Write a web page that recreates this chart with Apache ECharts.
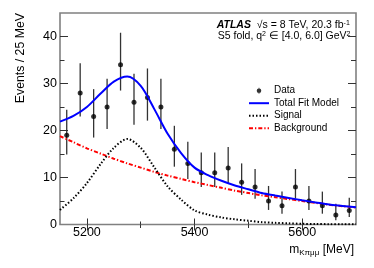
<!DOCTYPE html>
<html><head><meta charset="utf-8">
<script src="https://cdn.jsdelivr.net/npm/echarts@6/dist/echarts.min.js"></script>
<style>html,body{margin:0;padding:0;background:#fff}#c{width:374px;height:268px}</style>
</head><body><div id="c"></div>
<script>
// Data (bin centres, 25 MeV bins)
const binCenters = [5162.5,5187.5,5212.5,5237.5,5262.5,5287.5,5312.5,5337.5,5362.5,5387.5,5412.5,5437.5,5462.5,5487.5,5512.5,5537.5,5562.5,5587.5,5612.5,5637.5,5662.5,5687.5];
const counts     = [19,28,23,25,34,26,27,25,16,13,11,11,12,9,8,5,4,8,5,4,2,3];
const errLow     = [14.9,23.0,18.5,20.3,28.5,21.2,22.1,20.3,12.3,9.7,8.0,8.0,8.8,6.3,5.5,3.1,2.3,5.5,3.1,2.3,0.9,1.6];
const errHigh    = [24.4,34.3,28.8,31.0,40.8,32.1,33.2,31.0,21.0,17.6,15.3,15.3,16.5,13.0,11.8,8.2,7.0,11.8,8.2,7.0,4.4,5.7];
// Fit curves
const curveX     = [5150,5175,5200,5225,5250,5275,5300,5325,5350,5375,5400,5425,5450,5475,5500,5525,5550,5575,5600,5625,5650,5675,5700];
const totalFit   = [21.9,23.1,25.0,27.8,30.4,31.5,29.5,24.6,19.3,15.2,12.1,10.5,9.3,8.3,7.5,6.7,6.15,5.65,5.15,4.7,4.25,3.95,3.65];
const signalPdf  = [3.1,5.6,8.8,12.8,16.3,18.2,16.3,12.2,8.1,5.3,3.0,2.1,1.5,1.1,0.8,0.5,0.35,0.25,0.15,0.1,0.07,0.05,0.03];
const background = [18.8,17.5,16.2,15.1,14.0,13.0,12.1,11.2,10.4,9.7,9.0,8.4,7.8,7.2,6.7,6.2,5.8,5.4,5.0,4.6,4.2,3.9,3.6];
// Axis ticks
const xMajorTicks = [5200,5400,5600];
const xMinorTicks = [5300,5500];
const yMajorTicks = [10,20,30,40];
const yMinorTicks = [5,15,25,35];
const xMin = 5150, xMax = 5700, yMin = 0, yMax = 45;

const FONT = 'Liberation Sans, Arial, sans-serif';
const chart = echarts.init(document.getElementById('c'), null, {renderer:'canvas'});

function xAx(position, ticks, len, labels){
  return {type:'value', min:xMin, max:xMax, position:position,
    axisLine:{show:false}, splitLine:{show:false},
    axisTick:{show:true, inside:true, length:len, customValues:ticks, lineStyle:{color:'#333', width:1}},
    axisLabel:{show:labels, customValues:ticks, margin:2, color:'#000', fontSize:12.5, fontFamily:FONT, formatter:v=>String(v)}};
}
function yAx(position, ticks, len, labels){
  return {type:'value', min:yMin, max:yMax, interval:10, position:position, offset:0,
    axisLine:{show:false}, splitLine:{show:false},
    axisTick:{show:true, inside:true, length:len, customValues:ticks, lineStyle:{color:'#333', width:1}},
    axisLabel:{show:labels, customValues:[0].concat(yMajorTicks), margin:3, color:'#000', fontSize:12.5, fontFamily:FONT, formatter:v=>String(v)}};
}

const dataPts = binCenters.map((x,i)=>[x, counts[i]]);
const errPts = binCenters.map((x,i)=>[x, errLow[i], errHigh[i]]);
const zip = arr => curveX.map((x,i)=>[x, arr[i]]);
const hideSym = {opacity:0};

chart.setOption({
  animation:false,
  grid:{left:60, top:13, width:296, height:211.5, show:true, borderColor:'#808080', borderWidth:1.6, backgroundColor:'transparent'},
  xAxis:[xAx('bottom', xMajorTicks, 6, true), xAx('bottom', xMinorTicks, 3, false), xAx('top', xMajorTicks, 6, false), xAx('top', xMinorTicks, 3.5, false)],
  yAxis:[yAx('left', yMajorTicks, 8, true), yAx('left', yMinorTicks, 4.5, false), yAx('right', yMajorTicks, 8, false), yAx('right', yMinorTicks, 5, false)],
  legend:{orient:'vertical', left:243, top:80.7, itemWidth:20, itemHeight:6, itemGap:2.5,
    textStyle:{fontSize:10, fontFamily:FONT, color:'#000', padding:[0,0,0,0]},
    data:[
      {name:'Data', icon:'path://M1.9,0h0.8v0.9h-0.8zM1.9,5.1h0.8v0.9h-0.8zM2.3,0.7a2.3,2.3 0 1 1 -0.01 0z', itemStyle:{color:'#000'}},
      {name:'Total Fit Model', itemStyle:hideSym}, {name:'Signal', itemStyle:hideSym}, {name:'Background', itemStyle:hideSym}]},
  series:[
    {name:'err', type:'custom', data:errPts, encode:{x:0, y:[1,2]}, z:2,
      renderItem:function(params, api){
        const p1 = api.coord([api.value(0), api.value(1)]);
        const p2 = api.coord([api.value(0), api.value(2)]);
        return {type:'line', shape:{x1:p1[0], y1:p1[1], x2:p2[0], y2:p2[1]}, style:{stroke:'#333', lineWidth:1.3}};
      }},
    {name:'Data', type:'scatter', data:dataPts, symbol:'circle', symbolSize:5, itemStyle:{color:'#000'}, z:4},
    {name:'Background', type:'line', data:zip(background), smooth:0.3, showSymbol:false, symbol:'none', z:3,
      lineStyle:{color:'#ff0000', width:2, type:[4,2,1.3,2]}, itemStyle:{color:'#ff0000'}},
    {name:'Signal', type:'line', data:zip(signalPdf), smooth:0.3, showSymbol:false, symbol:'none', z:3,
      lineStyle:{color:'#000', width:2, type:[1.5,2]}, itemStyle:{color:'#000'}},
    {name:'Total Fit Model', type:'line', data:zip(totalFit), smooth:0.3, showSymbol:false, symbol:'none', z:5,
      lineStyle:{color:'#0000ff', width:2}, itemStyle:{color:'#0000ff'}}
  ],
  graphic:[
    {type:'text', x:21, y:13, rotation:Math.PI/2,
      style:{text:'Events / 25 MeV', fontSize:12.3, fontFamily:FONT, fill:'#000', align:'right', verticalAlign:'middle'}},
    {type:'text', x:354, y:249.5,
      style:{text:'{a|m}{b|Kπμμ}{a| [MeV]}', align:'right', verticalAlign:'middle', fontFamily:FONT, fill:'#000',
        rich:{a:{fontSize:12, fontFamily:FONT, lineHeight:14, fill:'#000'}, b:{fontSize:8, fontFamily:FONT, lineHeight:8, verticalAlign:'bottom', fill:'#000'}}}},
    {type:'text', x:216.7, y:25.5,
      style:{text:'{t|ATLAS}{a|  √s = 8 TeV, 20.3 fb}{s|-1}', align:'left', verticalAlign:'middle', fontFamily:FONT, fill:'#000',
        rich:{t:{fontSize:10.5, fontWeight:'bold', fontStyle:'italic', fontFamily:FONT, lineHeight:12, fill:'#000'},
              a:{fontSize:10.5, fontFamily:FONT, lineHeight:12, fill:'#000'},
              s:{fontSize:7, fontFamily:FONT, lineHeight:7, verticalAlign:'top', fill:'#000'}}}},
    {type:'text', x:217.7, y:36.5,
      style:{text:'{a|S5 fold, q}{s|2}{a| ∈ [4.0, 6.0] GeV}{s|2}', align:'left', verticalAlign:'middle', fontFamily:FONT, fill:'#000',
        rich:{a:{fontSize:10.5, fontFamily:FONT, lineHeight:12, fill:'#000'},
              s:{fontSize:7, fontFamily:FONT, lineHeight:7, verticalAlign:'top', fill:'#000'}}}}
  ]
});
</script>
</body></html>
